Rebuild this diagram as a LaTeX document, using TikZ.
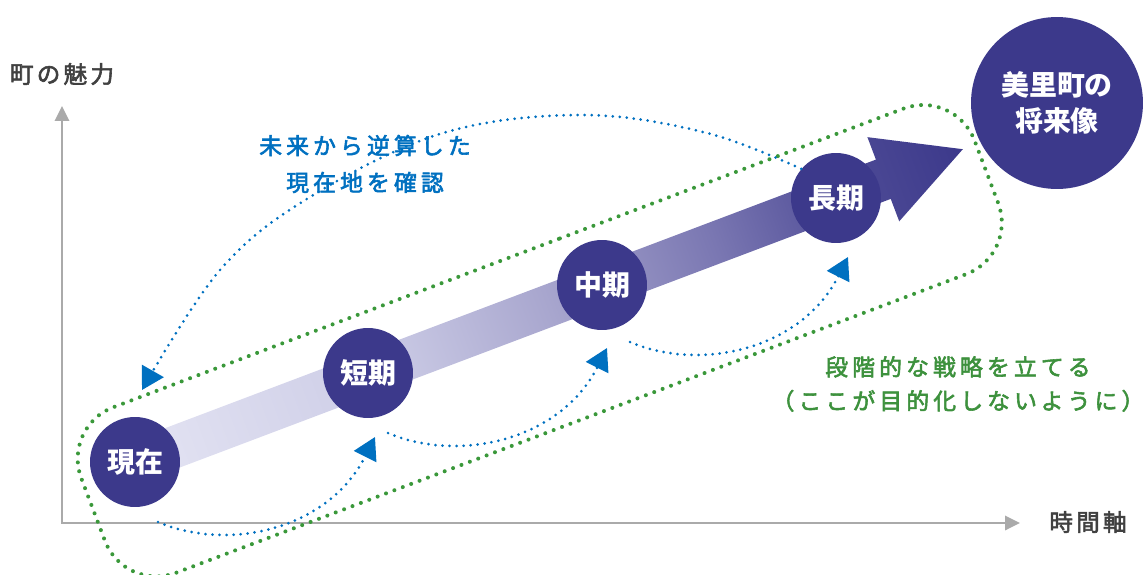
\documentclass[tikz,border=0pt]{standalone}
\usepackage{fontspec}
\usetikzlibrary{arrows.meta}
\newfontfamily\jp{Noto Sans CJK JP}
\newfontfamily\jpls[LetterSpace=18,FakeBold=2.5]{Noto Sans CJK JP}
\newfontfamily\jpax[LetterSpace=14,FakeBold=2.5]{Noto Sans CJK JP}
\definecolor{navy}{RGB}{60,57,139}
\definecolor{lav}{RGB}{228,228,243}
\definecolor{sh1}{RGB}{204,204,230}
\definecolor{sh2}{RGB}{168,166,206}
\definecolor{sh3}{RGB}{122,119,178}
\definecolor{sh4}{RGB}{78,75,150}
\definecolor{axisgray}{RGB}{170,170,170}
\definecolor{labgray}{RGB}{64,64,64}
\definecolor{dotblue}{RGB}{0,112,192}
\definecolor{dotgreen}{RGB}{58,152,58}
\definecolor{txtgreen}{RGB}{61,145,61}
\pgfdeclarehorizontalshading{arrowsh}{100bp}{color(0bp)=(lav); color(25bp)=(lav);
  color(40bp)=(sh1); color(50bp)=(sh2); color(60bp)=(sh3); color(68bp)=(sh4);
  color(75bp)=(navy); color(100bp)=(navy)}
\begin{document}
\begin{tikzpicture}[x=0.02cm,y=-0.02cm,
  stage/.style={circle, fill=navy, minimum size=1.8cm, inner sep=0pt, text=white,
    font=\jp\bfseries\fontsize{15.9pt}{19pt}\selectfont},
  goal/.style={circle, fill=navy, minimum size=3.44cm, inner sep=0pt, text=white, align=center,
    font=\jp\bfseries\fontsize{15.9pt}{20.4pt}\selectfont},
  axisline/.style={draw=axisgray, line width=1.7pt,
    {Triangle[length=8.5pt,width=8pt]}-{Triangle[length=8.5pt,width=8pt]}},
  axislabel/.style={text=labgray, inner sep=0pt, font=\jpax\fontsize{13.4pt}{16pt}\selectfont},
  bluedot/.style={draw=dotblue, line width=1.7pt, line cap=round, dash pattern=on 0pt off 4pt,
    -{Triangle[length=12.5pt,width=14pt,fill=dotblue]}},
  greendot/.style={draw=dotgreen, line width=2.3pt, line cap=round, dash pattern=on 0pt off 5.1pt},
  bluetext/.style={text=dotblue, align=center, inner sep=0pt,
    font=\jpls\fontsize{13pt}{21pt}\selectfont},
  greentext/.style={text=txtgreen, align=center, inner sep=0pt,
    font=\jpls\fontsize{13pt}{19.3pt}\selectfont}
]
\useasboundingbox (0,0) rectangle (1144,575);

% axes
\coordinate (ytip) at (62,106);
\coordinate (O) at (62,523);
\coordinate (xtip) at (1020,523);
\draw[axisline] (ytip) -- (O) -- (xtip);
\node[axislabel] (ylab) at (62,74) {町の魅力};
\node[axislabel] (xlab) at (1088,522) {時間軸};

% big shaded arrow
\begin{scope}[transform canvas={shift={(135,462)},rotate=20.7}]
  \shade[shading=arrowsh]
    (0,-21) -- (800,-21) -- (800,-45) -- (885,0) -- (800,45) -- (800,21) -- (0,21) -- cycle;
\end{scope}

% green dotted rounded frame
\coordinate (gA) at (61.8,426.7);
\coordinate (gB) at (955.1,89.1);
\coordinate (gC) at (1017.7,254.7);
\coordinate (gD) at (124.4,592.3);
\coordinate (gM) at (508.45,257.9);
\draw[greendot, rounded corners=1.1cm] (gM) -- (gB) -- (gC) -- (gD) -- (gA) -- cycle;

% stages
\node[stage] (genzai) at (135,462) {現在};
\node[stage] (tanki) at (368,373) {短期};
\node[stage] (chuki) at (602,285) {中期};
\node[stage] (choki) at (836,198) {長期};
\node[goal] (goal) at (1057,103) {美里町の\\将来像};

% blue dotted arrows
\coordinate (t1) at (142,390);
\draw[bluedot] plot[smooth, tension=0.6] coordinates
  {(choki.140) (707,133) (583,115) (443,133) (310,197) (220,270) (t1)};
\coordinate (s2) at (158,522);
\coordinate (e2) at (375,437);
\draw[bluedot] (s2) .. controls +(70,30) and +(-47,93) .. (e2);
\coordinate (s3) at (388,433);
\coordinate (e3) at (607,348);
\draw[bluedot] (s3) .. controls +(70,30) and +(-47,93) .. (e3);
\coordinate (s4) at (630,342);
\coordinate (e4) at (848,257);
\draw[bluedot] (s4) .. controls +(70,30) and +(-47,93) .. (e4);

% texts
\node[bluetext] (btext) at (365,164) {未来から逆算した\\現在地を確認};
\node[greentext] (gtext) at (958,384) {段階的な戦略を立てる\\（ここが目的化しないように）};
\end{tikzpicture}
\end{document}
